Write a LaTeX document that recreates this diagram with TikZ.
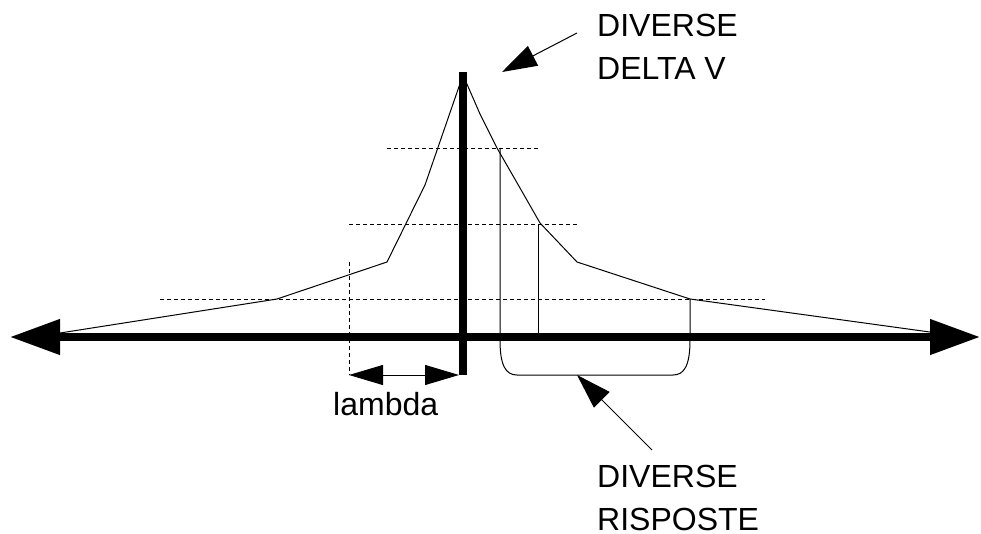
\documentclass[tikz,border=0pt]{standalone}
\usepackage{fontspec}
\setmainfont{Liberation Sans}
\usetikzlibrary{arrows.meta,positioning}

\begin{document}
\begin{tikzpicture}[x=1pt, y=-1pt, every node/.style={font=\fontsize{32}{43}\selectfont, inner sep=0pt},
  axisline/.style={line width=7.5pt},
  curveline/.style={line width=1pt},
  guide/.style={dash pattern=on 4pt off 3pt, line width=0.9pt},
  pointer/.style={line width=1pt, -{Triangle[length=35pt,width=22pt]}},
  bigtip/.style={{Triangle[length=50pt,width=34pt]}-{Triangle[length=50pt,width=34pt]}},
  spanarrow/.style={line width=1pt, {Triangle[length=34pt,width=20pt]}-{Triangle[length=34pt,width=20pt]}}]
\useasboundingbox (0,0) rectangle (981,534);
\coordinate (xl) at (10,337); \coordinate (xr) at (980,337);
\coordinate (top) at (463,72); \coordinate (bot) at (463,375);
\coordinate (lam1) at (349,375); \coordinate (lam2) at (459,375);
\coordinate (dvtail) at (577,33); \coordinate (dvtip) at (502,72);
\coordinate (rstail) at (652,450); \coordinate (rstip) at (577,375);
\foreach \y/\a/\b in {148/387/538, 224/349/577, 299/160/765}
  \draw[guide] (\a,\y) -- (\b,\y);
\draw[guide] (349,262) -- (lam1);
\draw[curveline] (60,333) -- (277,299) -- (387,262) -- (425,185) -- (463,75) -- (480,114) -- (497,148)
  -- (520,188) -- (540,223) -- (577,262) -- (690,299) -- (937,333);
\draw[curveline] (538,224) -- (538,337);
\draw[curveline] (500,148) -- (500,340) .. controls (500,366) and (506,375) .. (517,375) -- (673,375)
  .. controls (684,375) and (690,366) .. (690,340) -- (690,299);
\draw[axisline, bigtip] (xl) -- (xr);
\draw[axisline] (top) -- (bot);
\draw[spanarrow] (lam1) -- (lam2);
\node[anchor=north west, align=left] (deltav) at (597,14) {DIVERSE\\DELTA V};
\node[anchor=north west, align=left] (risposte) at (597,465) {DIVERSE\\RISPOSTE};
\node[anchor=base west] (lambda) at (333,415) {lambda};
\draw[pointer] (dvtail) -- (dvtip);
\draw[pointer] (rstail) -- (rstip);
\end{tikzpicture}
\end{document}
